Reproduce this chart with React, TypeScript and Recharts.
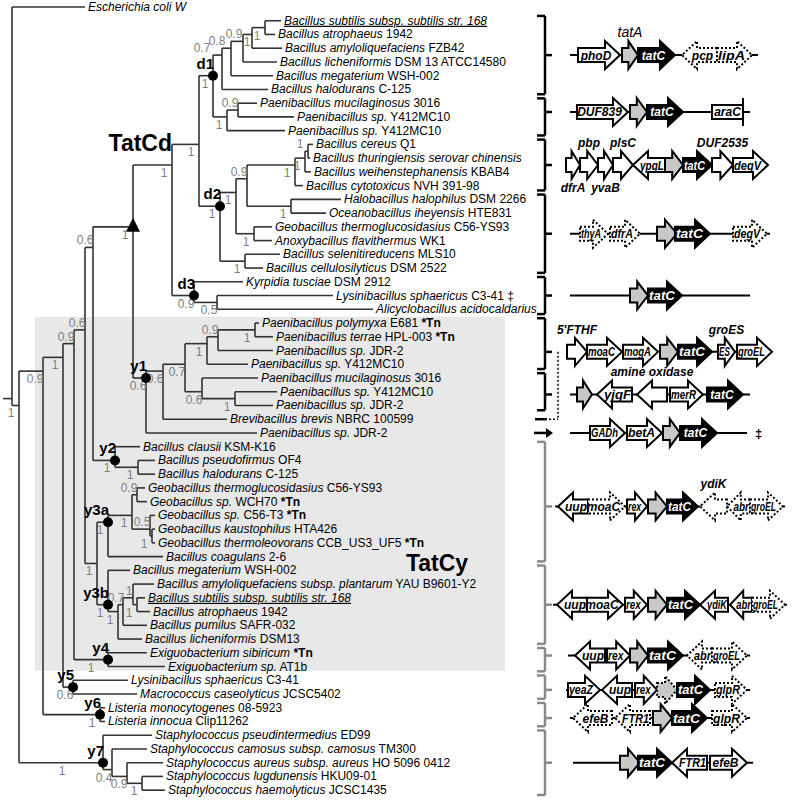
import { ComposedChart, XAxis, YAxis, Scatter, ReferenceLine, ReferenceArea } from 'recharts';

const W = 793;
const H = 802;
const FONT = '"Liberation Sans", Arial, sans-serif';
const ROW0 = 7;
const ROW_PX = 13.74;
const PX = 1; // one x unit is one pixel (domain 0..W)

// leaves, top to bottom
const taxa = [
  'Escherichia coli W', 'Bacillus subtilis subsp. subtilis str. 168', 'Bacillus atrophaeus', 'Bacillus amyloliquefaciens',
  'Bacillus licheniformis', 'Bacillus megaterium', 'Bacillus halodurans', 'Paenibacillus mucilaginosus', 'Paenibacillus sp.',
  'Paenibacillus sp.', 'Bacillus cereus', 'Bacillus thuringiensis serovar chinensis', 'Bacillus weihenstephanensis',
  'Bacillus cytotoxicus', 'Halobacillus halophilus', 'Oceanobacillus iheyensis', 'Geobacillus thermoglucosidasius',
  'Anoxybacillus flavithermus', 'Bacillus selenitireducens', 'Bacillus cellulosilyticus', 'Kyrpidia tusciae',
  'Lysinibacillus sphaericus', 'Alicyclobacillus acidocaldarius', 'Paenibacillus polymyxa', 'Paenibacillus terrae',
  'Paenibacillus sp.', 'Paenibacillus sp.', 'Paenibacillus mucilaginosus', 'Paenibacillus sp.', 'Paenibacillus sp.',
  'Brevibacillus brevis', 'Paenibacillus sp.', 'Bacillus clausii', 'Bacillus pseudofirmus', 'Bacillus halodurans',
  'Geobacillus thermoglucosidasius', 'Geobacillus sp.', 'Geobacillus sp.', 'Geobacillus kaustophilus',
  'Geobacillus thermoleovorans', 'Bacillus coagulans', 'Bacillus megaterium', 'Bacillus amyloliquefaciens subsp. plantarum',
  'Bacillus subtilis subsp. subtilis str. 168', 'Bacillus atrophaeus', 'Bacillus pumilus', 'Bacillus licheniformis',
  'Exiguobacterium sibiricum', 'Exiguobacterium sp.', 'Lysinibacillus sphaericus', 'Macrococcus caseolyticus',
  'Listeria monocytogenes', 'Listeria innocua', 'Staphylococcus pseudintermedius', 'Staphylococcus camosus subsp. camosus',
  'Staphylococcus aureus subsp. aureus', 'Staphylococcus lugdunensis', 'Staphylococcus haemolyticus',
];
const strains = [
  '', '', '1942', 'FZB42', 'DSM 13 ATCC14580', 'WSH-002', 'C-125', '3016', 'Y412MC10', 'Y412MC10', 'Q1', '', 'KBAB4',
  'NVH 391-98', 'DSM 2266', 'HTE831', 'C56-YS93', 'WK1', 'MLS10', 'DSM 2522', 'DSM 2912', 'C3-41', '', 'E681', 'HPL-003',
  'JDR-2', 'Y412MC10', '3016', 'Y412MC10', 'JDR-2', 'NBRC 100599', 'JDR-2', 'KSM-K16', 'OF4', 'C-125', 'C56-YS93', 'WCH70',
  'C56-T3', 'HTA426', 'CCB_US3_UF5', '2-6', 'WSH-002', 'YAU B9601-Y2', '', '1942', 'SAFR-032', 'DSM13', '', 'AT1b', 'C3-41',
  'JCSC5402', '08-5923', 'Clip11262', 'ED99', 'TM300', 'HO 5096 0412', 'HKU09-01', 'JCSC1435',
];
const leafParent = [
  'root', 'A5', 'A5', 'A4', 'A3', 'A2', 'A1', 'B1', 'B1', 'Bp', 'C7', 'C7', 'C6', 'C4', 'C5', 'C5', 'C3', 'C3', 'C8', 'C8',
  'd3', 'E1', 'E1', 'F6', 'F6', 'F5', 'F3', 'F4', 'F7', 'F7', 'F1', 'y1', 'y2', 'G1', 'G1', 'H2', 'H2', 'H3', 'H4', 'H4',
  'y3a', 'y3b', 'J3', 'J4', 'J4', 'J2', 'J1', 'y4', 'y4', 'y5', 'y5', 'y6', 'y6', 'y7', 'K1', 'K2', 'K3', 'K3',
];
// depth of each leaf tip
const leafTip = [
  85, 281, 275, 282, 277, 273, 268, 257, 294, 285, 313, 310, 311, 303, 341, 326, 272, 272, 280, 263, 243, 333, 373,
  259, 273, 273, 248, 258, 277, 273, 227, 257, 140, 155, 155, 145, 147, 155, 155, 155, 163, 130, 154, 145, 150, 147,
  142, 147, 165, 128, 137, 105, 105, 152, 147, 163, 163, 165,
];
const tnLeaves = [23, 24, 36, 37, 39, 47];
const underlined = [1, 43];
const daggerLeaves = [21];

// internal nodes: id, parent, depth, support
const nodes: [string, string, number, string][] = [
  ['root', '', 12, ''], ['N1', 'root', 19, '1'], ['N2', 'N1', 43, '0.9'], ['N3', 'N2', 63, '1'], ['N4', 'N3', 74, '0.9'],
  ['N5', 'N4', 85, '0.6'], ['Ntop', 'N5', 93, '0.6'], ['T', 'Ntop', 133, '1'], ['TatCd', 'T', 172, '1'],
  ['Nd', 'TatCd', 199, '1'], ['d1', 'Nd', 213, '1'], ['A1', 'd1', 222, '0.7'], ['A2', 'A1', 231, '0.8'],
  ['A3', 'A2', 243, '0.9'], ['A4', 'A3', 252, '1'], ['A5', 'A4', 265, '1'], ['Bp', 'd1', 227, '1'], ['B1', 'Bp', 238, '0.9'],
  ['d2', 'Nd', 220, '1'], ['C1', 'd2', 236, '1'], ['C2', 'C1', 247, '0.9'], ['C4', 'C2', 295, '1'], ['C6', 'C4', 305, '1'],
  ['C7', 'C6', 308, '1'], ['C5', 'C2', 291, '1'], ['C3', 'C1', 254, '1'], ['C8', 'd2', 245, '1'],
  ['d3', 'TatCd', 194, '0.9'], ['E1', 'd3', 217, '0.5'], ['y1', 'T', 146, '0.6'], ['F1', 'y1', 163, '0.6'],
  ['F2', 'F1', 185, '0.7'], ['F3', 'F2', 207, '1'], ['F5', 'F3', 218, '0.9'], ['F6', 'F5', 255, '1'], ['F4', 'F2', 202, '0.6'],
  ['F7', 'F4', 235, '1'], ['y2', 'Ntop', 115, '1'], ['G1', 'y2', 138, '1'], ['Ny3', 'N5', 97, '1'], ['y3a', 'Ny3', 108, '1'],
  ['H1', 'y3a', 132, '1'], ['H2', 'H1', 137, '0.9'], ['H3', 'H1', 150, '0.5'], ['H4', 'H3', 152, '1'], ['y3b', 'Ny3', 108, '1'],
  ['J1', 'y3b', 118, '1'], ['J2', 'J1', 123, '0.7'], ['J3', 'J2', 133, '1'], ['J4', 'J3', 137, '1'], ['y4', 'N4', 108, '1'],
  ['y5', 'N3', 73, '0.6'], ['y6', 'N2', 100, '1'], ['y7', 'N1', 103, '1'], ['K1', 'y7', 112, '0.4'], ['K2', 'K1', 127, '0.9'],
  ['K3', 'K2', 142, '1'],
];
const supportAbove = ['N4', 'N5', 'Ntop', 'A1', 'A2', 'A3', 'B1', 'C2', 'C7', 'F5', 'H2', 'H3', 'J2', 'J3'];
const marked = ['d1', 'd2', 'd3', 'y1', 'y2', 'y3a', 'y3b', 'y4', 'y5', 'y6', 'y7'];

// leaf-row ranges sharing one tat locus
const groups: [number, number][] = [
  [1, 6], [7, 9], [10, 13], [14, 19], [20, 22], [23, 26], [27, 29], [31, 31],
  [32, 40], [41, 46], [47, 48], [49, 50], [51, 52], [53, 57],
];
// genes: name, from, to, direction (1 right, -1 left, 0 none), kind, label above, label below
type G = [string, number, number, number, string, string?, string?];
const locus1: G[] = [['', 570, 758, 0, 'line'], ['phoD', 578, 620, 1, 'w'], ['', 622, 638, 1, 'g', 'tatA'], ['tatC', 638, 675, 1, 'k'], ['pcp', 682, 717, -1, 'd'], ['lipA', 717, 752, 1, 'd']];
const locus2: G[] = [['', 570, 750, 0, 'line'], ['DUF839', 577, 628, 1, 'w'], ['', 630, 647, 1, 'g'], ['tatC', 647, 683, 1, 'k'], ['araC', 712, 743, 0, 'w']];
const locus3: G[] = [['', 566, 580, 1, 'w', '', 'dfrA'], ['', 580, 598, 1, 'w', 'pbp'], ['', 598, 613, 1, 'w', '', 'yvaB'], ['', 613, 633, 1, 'w', 'plsC'], ['ypgL', 633, 665, -1, 'w'], ['', 665, 683, 1, 'g'], ['tatC', 683, 712, 1, 'k'], ['', 712, 733, 1, 'w', 'DUF2535'], ['degV', 733, 768, 1, 'w']];
const locus4: G[] = [['', 570, 770, 0, 'line'], ['thyA', 580, 608, 1, 'd'], ['dfrA', 610, 640, 1, 'd'], ['', 657, 677, 1, 'g'], ['tatC', 675, 710, 1, 'k'], ['degV', 733, 767, 1, 'd']];
const locus5: G[] = [['', 570, 750, 0, 'line'], ['', 630, 648, 1, 'g'], ['tatC', 648, 682, 1, 'k']];
const locus6: G[] = [['', 680, 740, 0, 'line'], ['', 567, 587, 1, 'w', "5'FTHF"], ['moaC', 587, 622, 1, 'w'], ['mogA', 623, 658, 1, 'w'], ['', 660, 678, 1, 'g'], ['tatC', 678, 712, 1, 'k'], ['ES', 718, 735, 1, 'w', 'groES'], ['groEL', 737, 772, 1, 'w']];
const locus7: G[] = [['', 570, 750, 0, 'line'], ['', 577, 592, 1, 'g'], ['yjqF', 597, 632, -1, 'w'], ['', 637, 667, -1, 'w', 'amine oxidase'], ['merR', 670, 703, 1, 'w'], ['tatC', 707, 743, 1, 'k']];
const locus8: G[] = [['', 570, 747, 0, 'line'], ['GADh', 590, 625, 1, 'w'], ['betA', 627, 662, 1, 'w'], ['', 663, 680, 1, 'g'], ['tatC', 680, 717, 1, 'k']];
const locus9: G[] = [['', 555, 785, 0, 'line'], ['uup', 558, 588, -1, 'w'], ['moaC', 588, 625, 1, 'd'], ['rex', 627, 647, 1, 'w'], ['', 648, 667, 1, 'g'], ['tatC', 667, 698, 1, 'k'], ['', 700, 727, -1, 'd', 'ydiK'], ['abr', 727, 750, -1, 'd'], ['groEL', 750, 783, 1, 'd']];
const locus10: G[] = [['', 553, 787, 0, 'line'], ['uup', 557, 587, -1, 'w'], ['moaC', 587, 623, 1, 'w'], ['rex', 625, 647, 1, 'w'], ['', 648, 667, 1, 'g'], ['tatC', 667, 700, 1, 'k'], ['ydiK', 700, 728, -1, 'w'], ['abr', 730, 752, -1, 'w'], ['groEL', 752, 785, 1, 'd']];
const locus11: G[] = [['', 568, 750, 0, 'line'], ['uup', 575, 605, -1, 'w'], ['rex', 607, 630, 1, 'w'], ['', 630, 648, 1, 'g'], ['tatC', 648, 683, 1, 'k'], ['abr', 687, 712, -1, 'd'], ['groEL', 712, 747, 1, 'd']];
const locus12: G[] = [['', 566, 750, 0, 'line'], ['yeaZ', 568, 600, 1, 'w'], ['uup', 602, 632, -1, 'w'], ['rex', 635, 657, 1, 'w'], ['', 657, 677, 1, 'dg'], ['tatC', 677, 710, 1, 'k'], ['glpR', 715, 747, 1, 'd']];
const locus13: G[] = [['', 570, 750, 0, 'line'], ['efeB', 573, 612, -1, 'd'], ['FTR1', 615, 650, -1, 'd'], ['', 653, 672, 1, 'g'], ['tatC', 672, 707, 1, 'k'], ['glpR', 712, 747, 1, 'd']];
const locus14: G[] = [['', 573, 753, 0, 'line'], ['', 620, 640, 1, 'g'], ['tatC', 638, 672, 1, 'k'], ['FTR1', 672, 707, -1, 'w'], ['efeB', 710, 747, 1, 'w']];
const loci = [locus1, locus2, locus3, locus4, locus5, locus6, locus7, locus8, locus9, locus10, locus11, locus12, locus13, locus14];

// ---- tree layout ----
const kids: Record<string, string[]> = {};
nodes.forEach(([id, p]) => { if (p) (kids[p] ||= []).push(id); });
leafParent.forEach((p, i) => (kids[p] ||= []).push('L' + i));
const rowsOf = (id: string): number[] => (id[0] === 'L' ? [Number(id.slice(1))] : kids[id].flatMap(rowsOf));
const pos: Record<string, { x: number; y: number }> = {};
leafTip.forEach((x, i) => { pos['L' + i] = { x, y: i }; });
nodes.forEach(([id, , x]) => {
  const r = rowsOf(id);
  pos[id] = { x, y: r.reduce((a, b) => a + b, 0) / r.length };
});
const segs: [number, number, number, number][] = [];
Object.entries(kids).forEach(([id, ch]) => {
  const p = pos[id];
  const ys = ch.map((c) => pos[c].y);
  segs.push([p.x, Math.min(...ys), p.x, Math.max(...ys)]);
  ch.forEach((c) => segs.push([p.x, pos[c].y, pos[c].x, pos[c].y]));
});
segs.push([3, pos.root.y, pos.root.x, pos.root.y]);

// hand placement of a few support values along long branches
const supportX: Record<string, number> = { y7: 62, A1: 202, A2: 217, A3: 234, A4: 247, y4: 91, J2: 116, J3: 129 };
// small vertical nudges of the locus drawings (rows)
const locusNudge = [0, -0.36, 0, 0, 0, 0.6, 0.2, 0, 0.35, 0, -0.3, 0.2, 0.25, 0];

const leafData = taxa.map((t, i) => ({
  x: leafTip[i] + 3, y: i, taxon: t, strain: strains[i],
  tn: tnLeaves.includes(i), ul: underlined.includes(i), dd: daggerLeaves.includes(i),
}));
const supportData = nodes.filter((n) => n[3]).map(([id, , , s]) => ({
  x: supportX[id] ?? pos[id].x - 8, y: pos[id].y, s, above: supportAbove.includes(id),
}));
const markData = marked.map((id) => ({ ...pos[id], id }));
const locusRow = groups.map((g, i) => (g[0] + g[1]) / 2 + locusNudge[i]);
const geneData = loci.flatMap((l, gi) => l.map(([name, from, to, dir, kind, above, below]) => ({
  x: (from + to) / 2, y: locusRow[gi], name, from, to, dir, kind, above, below,
})));

const Leaf = (p: any) => {
  const d = p.payload;
  return (
    <text x={p.cx} y={p.cy + 4} fontFamily={FONT} fontSize={12} fill="#000" textDecoration={d.ul ? 'underline' : undefined}>
      <tspan fontStyle="italic">{d.taxon}</tspan>
      {d.strain ? <tspan>{' ' + d.strain}</tspan> : null}
      {d.tn ? <tspan fontWeight="bold">{'  *Tn'}</tspan> : null}
      {d.dd ? <tspan>{' \u2021'}</tspan> : null}
    </text>
  );
};

const Support = (p: any) => (
  <text x={p.cx} y={p.payload.above ? p.cy - 3 : p.cy + 12} textAnchor="middle" fontFamily={FONT} fontSize={12} fill="#808080">
    {p.payload.s}
  </text>
);

const Mark = (p: any) => (
  <g>
    <circle cx={p.cx} cy={p.cy} r={5} fill="#000" />
    <text x={p.cx + 1} y={p.cy - 7} textAnchor="end" fontFamily={FONT} fontSize={15} fontWeight="bold" fill="#000">{p.payload.id}</text>
  </g>
);

const Triangle = (p: any) => (
  <g>
    <polygon points={`${p.cx},${p.cy - 9} ${p.cx - 7},${p.cy + 5} ${p.cx + 7},${p.cy + 5}`} fill="#000" />
    <text x={p.cx + 39} y={p.cy - 76} textAnchor="end" fontFamily={FONT} fontSize={23} fontWeight="bold" fill="#000">TatCd</text>
  </g>
);

const Gene = (p: any) => {
  const g = p.payload;
  const w = (g.to - g.from) * PX;
  const x0 = p.cx - w / 2;
  const x1 = p.cx + w / 2;
  const cy = p.cy;
  if (g.kind === 'line') return <line x1={x0} x2={x1} y1={cy} y2={cy} stroke="#000" strokeWidth={2} />;
  const hb = 7;
  const hh = 14;
  const hl = g.dir === 0 ? 0 : Math.min(15, w * 0.6);
  const d = g.dir >= 0
    ? `M${x0},${cy - hb}L${x1 - hl},${cy - hb}L${x1 - hl},${cy - hh}L${x1},${cy}L${x1 - hl},${cy + hh}L${x1 - hl},${cy + hb}L${x0},${cy + hb}Z`
    : `M${x1},${cy - hb}L${x0 + hl},${cy - hb}L${x0 + hl},${cy - hh}L${x0},${cy}L${x0 + hl},${cy + hh}L${x0 + hl},${cy + hb}L${x1},${cy + hb}Z`;
  const fill = g.kind === 'k' ? '#000' : g.kind === 'g' || g.kind === 'dg' ? '#c8c8c8' : '#fff';
  const dotted = g.kind === 'd' || g.kind === 'dg';
  const tx = g.dir >= 0 ? (x0 + x1 - hl * 0.4) / 2 : (x0 + x1 + hl * 0.4) / 2;
  const room = w - hl * 0.4 - 2;
  const est = g.name.length * 6.9;
  const plainTop = g.above === 'tatA';
  return (
    <g>
      <path d={d} fill={fill} stroke="#000" strokeWidth={2} strokeDasharray={dotted ? '2 2' : undefined} strokeLinejoin="miter" />
      {g.name ? (
        <text x={tx} y={cy + 4.5} textAnchor="middle" fontFamily={FONT} fontSize={12} fontStyle="italic" fontWeight="bold"
          fill={g.kind === 'k' ? '#fff' : '#000'}
          textLength={est > room ? room : undefined} lengthAdjust="spacingAndGlyphs">{g.name}</text>
      ) : null}
      {g.above ? (
        <text x={(x0 + x1) / 2} y={cy - 18} textAnchor="middle" fontFamily={FONT} fontSize={plainTop ? 14 : 12}
          fontStyle="italic" fontWeight={plainTop ? 'normal' : 'bold'} fill="#000">{g.above}</text>
      ) : null}
      {g.below ? (
        <text x={(x0 + x1) / 2} y={cy + 27} textAnchor="middle" fontFamily={FONT} fontSize={12} fontStyle="italic"
          fontWeight="bold" fill="#000">{g.below}</text>
      ) : null}
    </g>
  );
};

const Misc = (p: any) => {
  const d = p.payload;
  if (d.kind === 'arrow') return <polygon points={`${p.cx},${p.cy} ${p.cx - 7},${p.cy - 5} ${p.cx - 7},${p.cy + 5}`} fill="#000" />;
  return (
    <text x={p.cx} y={p.cy + d.dy} textAnchor={d.anchor} fontFamily={FONT} fontSize={d.size} fontWeight="bold" fill="#000">{d.text}</text>
  );
};

export default function App() {
  const yDomain = [-ROW0 / ROW_PX, (H - ROW0) / ROW_PX];
  const bx = 545;
  const braceLines: { s: [number, number, number, number]; c: string }[] = [];
  groups.forEach((g, i) => {
    if (g[0] === g[1]) return;
    const c = i < 7 ? '#000' : '#8a8a8a';
    const t = g[0] - 0.35;
    const b = g[1] + 0.35;
    const m = locusRow[i];
    braceLines.push({ s: [bx - 8, t, bx, t], c }, { s: [bx, t, bx, b], c }, { s: [bx, b, bx - 8, b], c }, { s: [bx, m, bx + 7, m], c });
  });
  const single = locusRow[7];
  const miscData = [
    { x: 553, y: single, kind: 'arrow' },
    { x: 437, y: 41, text: 'TatCy', dy: 1, anchor: 'middle', size: 23 },
    { x: 755, y: single, text: '\u2021', dy: 5, anchor: 'start', size: 13 },
  ];
  return (
    <div style={{ position: 'absolute', left: 0, top: 0, width: W, height: H, background: '#fff' }}>
      <ComposedChart width={W} height={H} margin={{ top: 0, right: 0, bottom: 0, left: 0 }}>
        <XAxis type="number" dataKey="x" domain={[0, W]} hide />
        <YAxis type="number" dataKey="y" domain={yDomain} reversed hide />
        <ReferenceArea x1={35} x2={505} y1={22.55} y2={48.3} fill="#e8e8e8" fillOpacity={1} stroke="none" ifOverflow="visible" />
        {segs.map((s, i) => (
          <ReferenceLine key={'e' + i} segment={[{ x: s[0], y: s[1] }, { x: s[2], y: s[3] }]} stroke="#333" strokeWidth={1.6} ifOverflow="visible" />
        ))}
        {braceLines.map((b, i) => (
          <ReferenceLine key={'b' + i} segment={[{ x: b.s[0], y: b.s[1] }, { x: b.s[2], y: b.s[3] }]} stroke={b.c} strokeWidth={2.5} ifOverflow="visible" />
        ))}
        <ReferenceLine segment={[{ x: 534, y: single }, { x: 548, y: single }]} stroke="#000" strokeWidth={2.5} ifOverflow="visible" />
        <ReferenceLine segment={[{ x: 535, y: 30 }, { x: 547, y: 30 }]} stroke="#000" strokeWidth={2.5} ifOverflow="visible" />
        <ReferenceLine segment={[{ x: 549, y: 30 }, { x: 558, y: 30 }]} stroke="#000" strokeWidth={1.5} strokeDasharray="2 2" ifOverflow="visible" />
        <ReferenceLine segment={[{ x: 558, y: locusRow[5] }, { x: 558, y: 30 }]} stroke="#000" strokeWidth={1.5} strokeDasharray="2 2" ifOverflow="visible" />
        <Scatter data={geneData} dataKey="y" shape={Gene} isAnimationActive={false} />
        <Scatter data={leafData} dataKey="y" shape={Leaf} isAnimationActive={false} />
        <Scatter data={supportData} dataKey="y" shape={Support} isAnimationActive={false} />
        <Scatter data={markData} dataKey="y" shape={Mark} isAnimationActive={false} />
        <Scatter data={[pos.T]} dataKey="y" shape={Triangle} isAnimationActive={false} />
        <Scatter data={miscData} dataKey="y" shape={Misc} isAnimationActive={false} />
      </ComposedChart>
    </div>
  );
}
